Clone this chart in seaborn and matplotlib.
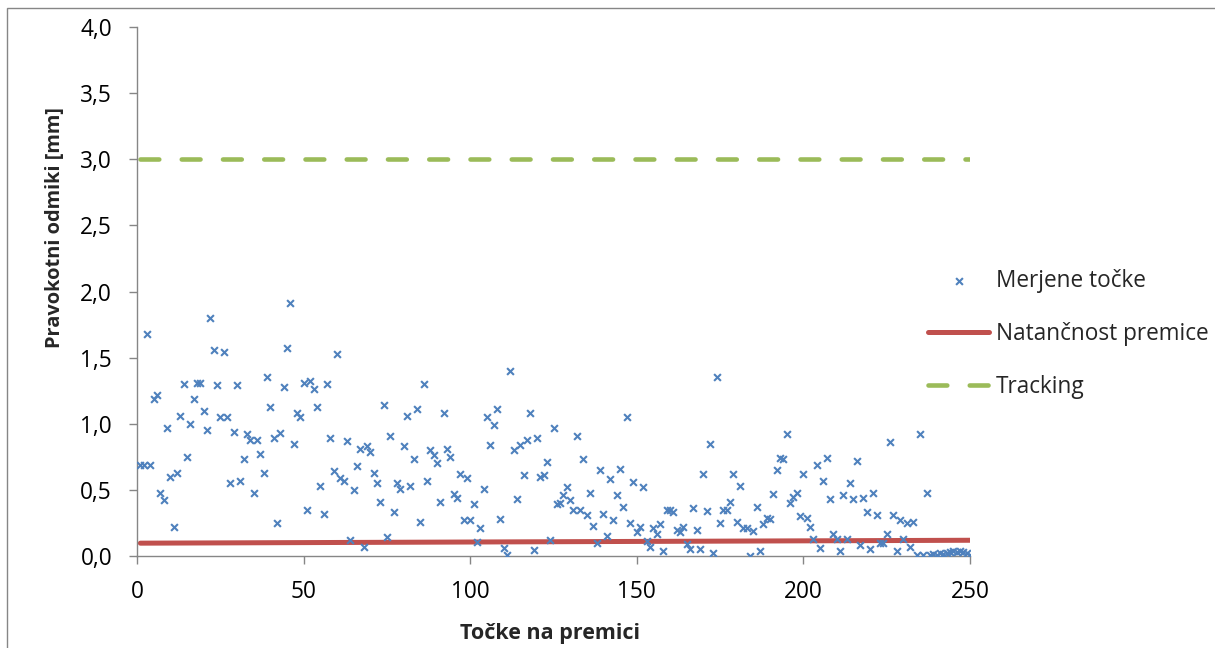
import numpy as np
import pandas as pd
import matplotlib
matplotlib.use("Agg")
import matplotlib.pyplot as plt
from matplotlib.patches import Rectangle
import seaborn as sns

# ---------------- data ----------------
point_index = list(range(1, 251))
measured = [
    0.69, 0.69, 1.68, 0.69, 1.19, 1.22, 0.48, 0.42, 0.97, 0.60,
    0.22, 0.63, 1.06, 1.30, 0.75, 1.00, 1.19, 1.31, 1.31, 1.10,
    0.95, 1.80, 1.56, 1.29, 1.05, 1.54, 1.05, 0.55, 0.94, 1.29,
    0.57, 0.73, 0.92, 0.88, 0.48, 0.88, 0.77, 0.63, 1.35, 1.13,
    0.89, 0.25, 0.93, 1.28, 1.57, 1.91, 0.85, 1.08, 1.05, 1.31,
    0.35, 1.32, 1.26, 1.13, 0.53, 0.32, 1.30, 0.89, 0.64, 1.53,
    0.59, 0.57, 0.87, 0.12, 0.50, 0.68, 0.81, 0.07, 0.83, 0.79,
    0.63, 0.55, 0.41, 1.14, 0.14, 0.91, 0.33, 0.55, 0.51, 0.83,
    1.06, 0.53, 0.73, 1.11, 0.26, 1.30, 0.57, 0.80, 0.76, 0.70,
    0.41, 1.08, 0.81, 0.745, 0.47, 0.44, 0.62, 0.27, 0.59, 0.27,
    0.39, 0.105, 0.21, 0.51, 1.05, 0.84, 0.99, 1.11, 0.28, 0.06,
    0.01, 1.40, 0.80, 0.43, 0.84, 0.61, 0.88, 1.08, 0.045, 0.89,
    0.60, 0.61, 0.71, 0.12, 0.97, 0.39, 0.40, 0.46, 0.52, 0.42,
    0.35, 0.91, 0.35, 0.73, 0.31, 0.48, 0.23, 0.10, 0.65, 0.32,
    0.15, 0.58, 0.27, 0.46, 0.66, 0.37, 1.05, 0.25, 0.56, 0.18,
    0.22, 0.52, 0.11, 0.07, 0.21, 0.17, 0.24, 0.035, 0.35, 0.35,
    0.33, 0.20, 0.18, 0.22, 0.09, 0.05, 0.36, 0.20, 0.05, 0.62,
    0.34, 0.85, 0.025, 1.35, 0.25, 0.35, 0.35, 0.41, 0.62, 0.26,
    0.53, 0.21, 0.21, 0.00, 0.19, 0.37, 0.04, 0.24, 0.29, 0.28,
    0.47, 0.65, 0.74, 0.73, 0.92, 0.40, 0.445, 0.48, 0.30, 0.62,
    0.29, 0.22, 0.13, 0.69, 0.06, 0.57, 0.74, 0.43, 0.17, 0.13,
    0.04, 0.46, 0.13, 0.555, 0.43, 0.72, 0.08, 0.435, 0.33, 0.05,
    0.475, 0.31, 0.10, 0.10, 0.17, 0.86, 0.31, 0.04, 0.27, 0.13,
    0.25, 0.065, 0.26, 0.005, 0.92, 0.005, 0.48, 0.01, 0.015, 0.01,
    0.02, 0.015, 0.02, 0.03, 0.04, 0.03, 0.04, 0.03, 0.02, 0.01,
]
precision_x = [1, 250]
precision_y = [0.097, 0.119]
tracking_x = [1, 250]
tracking_y = [3.0, 3.0]

x_ticks = [0, 50, 100, 150, 200, 250]
x_tick_labels = ["0", "50", "100", "150", "200", "250"]
y_ticks = [0.0, 0.5, 1.0, 1.5, 2.0, 2.5, 3.0, 3.5, 4.0]
y_tick_labels = ["0,0", "0,5", "1,0", "1,5", "2,0", "2,5", "3,0", "3,5", "4,0"]

label_points = "Merjene točke"
label_precision = "Natančnost premice"
label_tracking = "Tracking"
x_title = "Točke na premici"
y_title = "Pravokotni odmiki [mm]"

# ---------------- style ----------------
sns.set_style("white")
plt.rcParams["font.family"] = ["Open Sans", "DejaVu Sans"]

BLUE = "#4F81BD"
RED = "#C0504D"
GREEN = "#9BBB59"
AXIS_GRAY = "#868686"
FS = 16.3
FS_XTITLE = 15.5
FS_YTITLE = 14.4

fig = plt.figure(figsize=(12.15, 6.48), dpi=100)
ax = fig.add_axes([137 / 1215, 1 - 556 / 648, (970 - 137) / 1215, (556 - 27) / 648])

df_pts = pd.DataFrame({"x": point_index, "y": measured})
sns.scatterplot(data=df_pts, x="x", y="y", marker="x", s=24, color=BLUE,
                linewidth=1.5, ax=ax, label=label_points, zorder=3)

df_prec = pd.DataFrame({"x": precision_x, "y": precision_y})
sns.lineplot(data=df_prec, x="x", y="y", color=RED, linewidth=3.6,
             solid_capstyle="round", ax=ax, label=label_precision, zorder=2)

df_tr = pd.DataFrame({"x": tracking_x, "y": tracking_y})
sns.lineplot(data=df_tr, x="x", y="y", color=GREEN, linewidth=3.3,
             linestyle=(0, (4.1, 4.9)), dash_capstyle="round", ax=ax,
             label=label_tracking, zorder=2)

ax.set_xlim(0, 250)
ax.set_ylim(0, 4.0)
ax.set_xticks(x_ticks)
ax.set_xticklabels(x_tick_labels)
ax.set_yticks(y_ticks)
ax.set_yticklabels(y_tick_labels)

for side in ["top", "right"]:
    ax.spines[side].set_visible(False)
for side in ["left", "bottom"]:
    ax.spines[side].set_color(AXIS_GRAY)
    ax.spines[side].set_linewidth(1.0)

ax.tick_params(axis="both", which="major", direction="out", length=6,
               width=1.0, color=AXIS_GRAY, labelsize=FS, labelcolor="black",
               bottom=True, left=True)
ax.tick_params(axis="y", pad=12)
ax.tick_params(axis="x", pad=11)

ax.set_xlabel(x_title, fontsize=FS_XTITLE, fontweight="bold")
ax.set_ylabel(y_title, fontsize=FS_YTITLE, fontweight="bold")
ax.xaxis.set_label_coords((550 - 137) / 833, (556 - 633) / 529)
ax.yaxis.set_label_coords((55 - 137) / 833, (556 - 228) / 529)
ax.xaxis.label.set_verticalalignment("center")
ax.yaxis.label.set_verticalalignment("center")

leg = ax.legend(loc="center left", bbox_to_anchor=(928 / 1215, 1 - 334 / 648),
                bbox_transform=fig.transFigure, frameon=False, fontsize=FS,
                handlelength=2.7, handletextpad=0.3, labelspacing=1.27,
                borderpad=0, borderaxespad=0, scatterpoints=1)

# outer chart border
fig.patches.append(Rectangle((7 / 1215, -0.05), 1.2, 1 - 8 / 648 + 0.05,
                             transform=fig.transFigure, fill=False,
                             edgecolor=AXIS_GRAY, linewidth=1.0))

fig.savefig("out.png", dpi=100)
